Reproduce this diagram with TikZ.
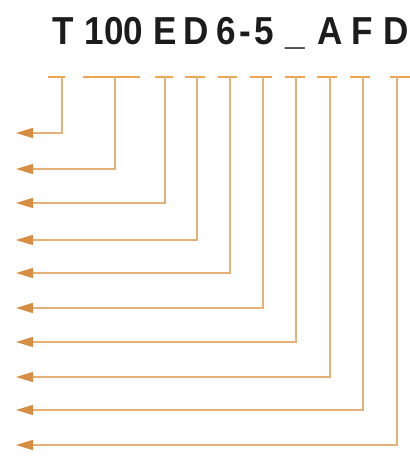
\documentclass[tikz,border=0pt]{standalone}
\usepackage{fontspec}
\setmainfont{Liberation Sans}
\usetikzlibrary{arrows.meta}
\definecolor{lineor}{RGB}{228,178,120}
\definecolor{dashor}{RGB}{236,165,85}
\definecolor{heador}{RGB}{214,142,68}
\definecolor{txt}{RGB}{28,28,28}
\newcommand{\gl}[1]{\scalebox{0.9}[1]{\bfseries #1}}
\begin{document}
\begin{tikzpicture}[x=1pt,y=1pt,
  chr/.style={anchor=base,inner sep=0pt,font=\fontsize{39}{39}\selectfont,text=txt},
  dashseg/.style={draw=dashor,line width=1.8pt},
  leader/.style={draw=lineor,line width=1.5pt,-{Triangle[length=17pt,width=10pt,color=heador]}}]
\useasboundingbox (0,0) rectangle (410,469);
% characters (baseline y=469-45)
\node[chr] (c1) at (63.5,424) {\gl{T}};
\node[chr] (c2) at (114,424) {\gl{100}};
\node[chr] (c3) at (165,424) {\gl{E}};
\node[chr] (c4) at (196,424) {\gl{D}};
\node[chr] (c5) at (226,424) {\gl{6}};
\node[chr] (h) at (245,424) {\gl{-}};
\node[chr] (c6) at (264,424) {\gl{5}};
\node[chr] (c7) at (295,424) {\gl{\_}};
\node[chr] (c8) at (330,424) {\gl{A}};
\node[chr] (c9) at (362,424) {\gl{F}};
\node[chr] (c10) at (396,424) {\gl{D}};
% dash segments
\foreach \a/\b [count=\i] in {48/65,83/140,155/173,185/205,218/237,250/272,285/305,317/337,350/370,390/410}{
  \coordinate (dl\i) at (\a,392);
  \coordinate (dr\i) at (\b,392);
  \draw[dashseg] (dl\i) -- (dr\i);
}
% leaders
\foreach \x/\y [count=\i] in {62/133,115/169,165/203,197/240,230/273,263/308,296/342,330/377,363/410,397/445}{
  \coordinate (t\i) at (\x,392);
  \coordinate (a\i) at (16,469-\y);
  \draw[leader] (t\i) |- (a\i);
}
\end{tikzpicture}
\end{document}
